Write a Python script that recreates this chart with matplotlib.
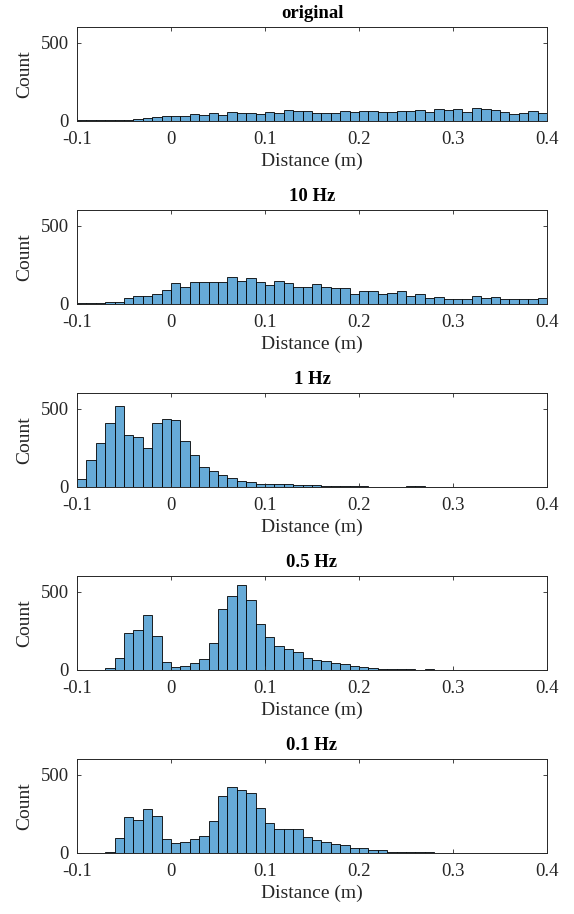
import numpy as np
import matplotlib
matplotlib.use("Agg")
import matplotlib.pyplot as plt

plt.rcParams['font.family'] = ['Liberation Serif', 'DejaVu Serif']
plt.rcParams['mathtext.fontset'] = 'stix'

titles = ["original", "10 Hz", "1 Hz", "0.5 Hz", "0.1 Hz"]
bin_edges = np.round(np.linspace(-0.1, 0.4, 51), 4)

counts_original = [2, 2, 3, 3, 5, 5, 13, 17, 24, 32,
                   32, 32, 41, 39, 47, 39, 54, 52, 52, 45,
                   58, 50, 67, 60, 60, 52, 52, 50, 60, 56,
                   60, 60, 56, 56, 60, 65, 67, 56, 73, 69,
                   75, 54, 82, 78, 69, 54, 45, 50, 60, 50]
counts_10hz = [2, 2, 2, 9, 13, 38, 47, 47, 64, 88,
               132, 111, 141, 137, 141, 141, 173, 147, 165, 137,
               122, 145, 135, 111, 105, 128, 107, 103, 103, 66,
               83, 79, 66, 70, 79, 53, 62, 38, 43, 30,
               34, 34, 47, 36, 43, 34, 30, 30, 34, 38]
counts_1hz = [53, 173, 282, 410, 519, 335, 318, 252, 410, 434,
              430, 295, 203, 124, 100, 73, 58, 36, 28, 21,
              17, 17, 15, 13, 11, 9, 6, 4, 2, 2,
              2, 1, 1, 1, 1, 2, 3, 1, 1, 1,
              1, 1, 0, 1, 0, 0, 1, 0, 0, 0]
counts_05hz = [0, 0, 0, 9, 78, 239, 256, 349, 216, 47,
               15, 22, 41, 71, 175, 390, 472, 545, 446, 293,
               209, 155, 134, 112, 78, 62, 54, 45, 37, 22,
               15, 11, 6, 4, 2, 2, 1, 2, 1, 1,
               0, 0, 0, 0, 0, 0, 0, 0, 0, 0]
counts_01hz = [0, 0, 0, 4, 92, 230, 210, 281, 238, 88,
               62, 69, 86, 107, 206, 365, 421, 401, 384, 285,
               189, 155, 150, 155, 101, 79, 71, 58, 49, 34,
               30, 17, 15, 6, 4, 2, 2, 2, 1, 0,
               0, 0, 0, 0, 0, 0, 0, 0, 0, 0]
all_counts = [counts_original, counts_10hz, counts_1hz, counts_05hz, counts_01hz]

xticks = [-0.1, 0, 0.1, 0.2, 0.3, 0.4]
xticklabels = ["-0.1", "0", "0.1", "0.2", "0.3", "0.4"]
yticks = [0, 500]

W, H = 574, 914
fig = plt.figure(figsize=(W / 100, H / 100), dpi=100)

face = (102 / 255, 170 / 255, 215 / 255)
left_px, right_px = 77, 547
top0, height_px, step = 27.3, 93.5, 183.0

for i, (title, counts) in enumerate(zip(titles, all_counts)):
    top = top0 + step * i
    ax = fig.add_axes([left_px / W, 1 - (top + height_px) / H,
                       (right_px - left_px) / W, height_px / H])
    ax.bar(bin_edges[:-1], counts, width=np.diff(bin_edges), align='edge',
           color=face, edgecolor='black', linewidth=0.6)
    ax.set_xlim(-0.1, 0.4)
    ax.set_ylim(0, 600)
    ax.set_xticks(xticks)
    ax.set_xticklabels(xticklabels)
    ax.set_yticks(yticks)
    ax.tick_params(direction='in', length=3, width=0.6, top=True, right=True,
                   labelsize=13.5, colors='#262626')
    ax.tick_params(axis='x', pad=7.5)
    ax.tick_params(axis='y', pad=6)
    for s in ax.spines.values():
        s.set_linewidth(0.7)
        s.set_color('#262626')
    ax.set_title(title, fontsize=13.5, fontweight='bold', pad=6.5)
    ax.set_xlabel("Distance (m)", fontsize=14, color='#262626', labelpad=3)
    ax.set_ylabel("Count", fontsize=14, color='#262626', labelpad=5)

fig.savefig("out.png", dpi=100)
